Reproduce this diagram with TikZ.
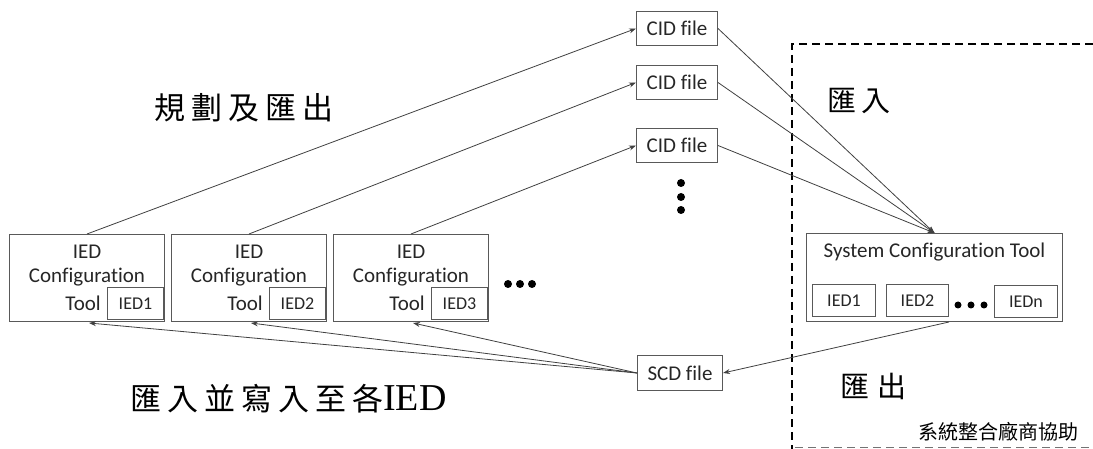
\documentclass[tikz,border=0pt]{standalone}
\usepackage{fontspec}
\setmainfont{Carlito}[Ligatures={NoCommon,NoRare,NoContextual}]
\newfontfamily\cjkfont{Noto Sans CJK TC}
\newfontfamily\ttimes{Liberation Serif}
\usetikzlibrary{arrows.meta,calc}
\newcommand\gapA{\hspace{6pt}}
\tikzset{
  box/.style={draw=black!65, line width=1pt, inner sep=0pt, anchor=north west},
  lbl/.style={inner sep=0pt, text=black!85, font=\fontsize{21}{25}\selectfont},
  slbl/.style={inner sep=0pt, text=black!85, font=\fontsize{18}{22}\selectfont},
  arr/.style={draw=black!75, line width=0.8pt, -{Stealth[length=7pt,width=5pt]}},
  bigdot/.style={circle, fill=black, inner sep=0pt, minimum size=8pt},
  cjkbig/.style={inner sep=0pt, font=\cjkfont\fontsize{31}{36}\selectfont},
}
\begin{document}
\begin{tikzpicture}[x=1pt,y=-1pt]
\useasboundingbox (0,0) rectangle (1093,449);

% dashed vendor region
\draw[line width=1.3pt, dash pattern=on 8pt off 5pt] (1093,44) -- (792,44) -- (792,449);
\draw[line width=1pt, black!55, dash pattern=on 8pt off 5pt] (795,447) -- (1093,447);

% IED configuration tools
\foreach \i/\x in {1/9,2/171,3/333}{
  \node[box, minimum width=155pt, minimum height=87pt] (t\i) at (\x,234) {};
  \node[box, minimum width=56pt, minimum height=32pt] (ti\i) at (\x+98,287) {};
  \node[slbl] (til\i) at (ti\i.center) {IED\i};
  \node[lbl] (ta\i) at ($(t\i.north)+(0,18)$) {IED};
  \node[lbl] (tb\i) at ($(t\i.north)+(0,43)$) {Configuration};
  \node[lbl, anchor=east] (tc\i) at ($(t\i.north west)+(92,69)$) {Tool};
  \coordinate (tin\i) at ($(t\i.south west)+(80,1)$);
}
\node[bigdot] (ld1) at (508,284) {};
\node[bigdot] (ld2) at (520,284) {};
\node[bigdot] (ld3) at (532,284) {};

% CID files
\node[box, minimum width=81pt, minimum height=34pt] (cid1) at (636,11) {};
\node[box, minimum width=81pt, minimum height=34pt] (cid2) at (636,65) {};
\node[box, minimum width=81pt, minimum height=34pt] (cid3) at (636,128) {};
\foreach \i in {1,2,3}{ \node[lbl] (cidl\i) at (cid\i.center) {CID file}; }
\node[bigdot] (vd1) at (681,183) {};
\node[bigdot] (vd2) at (681,197) {};
\node[bigdot] (vd3) at (681,210) {};

% SCD file
\node[box, minimum width=85pt, minimum height=35pt] (scd) at (637,355) {};
\node[lbl] (scdl) at (scd.center) {SCD file};

% System configuration tool
\node[box, minimum width=256pt, minimum height=88pt] (sct) at (806,233) {};
\node[lbl] (sctl) at ($(sct.north)+(0,19)$) {System Configuration Tool};
\node[box, minimum width=63pt, minimum height=32pt] (s1) at (812,284) {};
\node[box, minimum width=62pt, minimum height=32pt] (s2) at (886,284) {};
\node[box, minimum width=63pt, minimum height=32pt] (sn) at (994,285) {};
\node[slbl] (s1l) at (s1.center) {IED1};
\node[slbl] (s2l) at (s2.center) {IED2};
\node[slbl] (snl) at (sn.center) {IEDn};
\node[bigdot, minimum size=7pt] (sd1) at (958,305) {};
\node[bigdot, minimum size=7pt] (sd2) at (971,305) {};
\node[bigdot, minimum size=7pt] (sd3) at (984,305) {};

% connectors
\foreach \i in {1,2,3}{
  \draw[arr] (t\i.north) -- (cid\i.west);
  \draw[arr] (cid\i.east) -- (sct.north);
  \draw[arr] (scd.west) -- (tin\i);
}
\coordinate (sctout) at (s2.east |- sct.south);
\draw[arr] (sctout) -- (scd.east);

% labels
\node[cjkbig, anchor=west] (plan) at (154,108) {規\gapA 劃\gapA 及\gapA 匯\gapA 出};
\node[cjkbig, anchor=west] (imp) at (130,399) {匯\gapA 入\gapA 並\gapA 寫\gapA 入\gapA 至\gapA 各{\ttimes\fontsize{38}{40}\selectfont IED}};
\node[cjkbig, anchor=west, font=\cjkfont\fontsize{29}{34}\selectfont] (in) at (827,101) {匯\hspace{5pt}入};
\node[cjkbig, anchor=west, font=\cjkfont\fontsize{29}{34}\selectfont] (out) at (840,386) {匯\hspace{8pt}出};
\node[inner sep=0pt, anchor=east, font=\cjkfont\fontsize{20}{24}\selectfont] (vendor) at (1079,432) {系統整合廠商協助};
\end{tikzpicture}
\end{document}
